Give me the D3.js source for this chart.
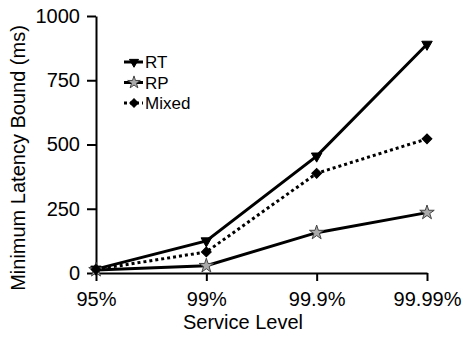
<!DOCTYPE html>
<html>
<head>
<meta charset="utf-8">
<script src="https://cdn.jsdelivr.net/npm/d3@7"></script>
<style>
  body { margin: 0; background: #fff; }
  text { font-family: "Liberation Sans", Arial, sans-serif; fill: #000; }
</style>
</head>
<body>
<div id="chart"></div>
<script>
// chart data
var levels = ["95%", "99%", "99.9%", "99.99%"];
var rtValues = [15, 125, 455, 890];
var rpValues = [12, 28, 157, 235];
var mixedValues = [14, 82, 388, 522];
var yTicks = [0, 250, 500, 750, 1000];

var svgWidth = 463;
var svgHeight = 345;
var margin = { top: 16, right: 36, bottom: 72, left: 96 };
var width = svgWidth - margin.left - margin.right;
var height = svgHeight - margin.top - margin.bottom;

var svg = d3.select("#chart")
  .append("svg")
  .attr("width", svgWidth)
  .attr("height", svgHeight);

var chartGroup = svg.append("g")
  .attr("transform", `translate(${margin.left}, ${margin.top})`);

var xScale = d3.scalePoint()
  .domain(levels)
  .range([0, width])
  .padding(0);

var yScale = d3.scaleLinear()
  .domain([0, 1000])
  .range([height, 0]);

// axes
var xAxis = chartGroup.append("g")
  .attr("transform", `translate(0, ${height})`)
  .call(d3.axisBottom(xScale).tickSize(8).tickPadding(11).tickSizeOuter(0));

var yAxis = chartGroup.append("g")
  .call(d3.axisLeft(yScale).tickValues(yTicks).tickFormat(d3.format("d"))
    .tickSize(9).tickPadding(7).tickSizeOuter(0));

[xAxis, yAxis].forEach(function (ax) {
  ax.select(".domain").attr("stroke", "#000").attr("stroke-width", 2);
  ax.selectAll(".tick line").attr("stroke", "#000").attr("stroke-width", 2);
  ax.selectAll(".tick text")
    .style("font-family", "'Liberation Sans', Arial, sans-serif")
    .style("font-size", "20px")
    .attr("fill", "#000");
});

// series
var series = [
  { name: "RT", values: rtValues, dash: null, symbol: d3.symbolTriangle, rotate: 180, size: 48, fill: "#000", stroke: "#000" },
  { name: "RP", values: rpValues, dash: null, symbol: d3.symbolStar, rotate: 0, size: 65, fill: "#aaa", stroke: "#444" },
  { name: "Mixed", values: mixedValues, dash: "3,3", symbol: d3.symbolSquare, rotate: 45, size: 48, fill: "#000", stroke: "#000" }
];

var line = d3.line()
  .x(function (d, i) { return xScale(levels[i]); })
  .y(function (d) { return yScale(d); });

series.forEach(function (s) {
  chartGroup.append("path")
    .datum(s.values)
    .attr("fill", "none")
    .attr("stroke", "#000")
    .attr("stroke-width", 3)
    .attr("stroke-dasharray", s.dash)
    .attr("d", line);

  chartGroup.selectAll(null)
    .data(s.values)
    .enter()
    .append("path")
    .attr("d", d3.symbol().type(s.symbol).size(s.size))
    .attr("transform", function (d, i) {
      return `translate(${xScale(levels[i])}, ${yScale(d)}) rotate(${s.rotate})`;
    })
    .attr("fill", s.fill)
    .attr("stroke", s.stroke)
    .attr("stroke-width", 1);
});

// legend
var legend = svg.append("g")
  .attr("transform", "translate(124, 62)");

series.forEach(function (s, i) {
  var row = legend.append("g")
    .attr("transform", `translate(0, ${i * 20.5})`);
  row.append("line")
    .attr("x1", 0).attr("x2", 19)
    .attr("y1", 0).attr("y2", 0)
    .attr("stroke", "#000")
    .attr("stroke-width", 3)
    .attr("stroke-dasharray", s.dash);
  row.append("path")
    .attr("d", d3.symbol().type(s.symbol).size(s.size * 0.75))
    .attr("transform", `translate(10, 0) rotate(${s.rotate})`)
    .attr("fill", s.fill)
    .attr("stroke", s.stroke)
    .attr("stroke-width", 1);
  row.append("text")
    .attr("x", 21)
    .attr("y", 6)
    .style("font-size", "17px")
    .text(s.name);
});

// axis labels
svg.append("text")
  .attr("x", 243)
  .attr("y", 329)
  .attr("text-anchor", "middle")
  .style("font-size", "20px")
  .text("Service Level");

svg.append("text")
  .attr("transform", "rotate(-90)")
  .attr("x", -158)
  .attr("y", 25)
  .attr("text-anchor", "middle")
  .style("font-size", "20px")
  .text("Minimum Latency Bound (ms)");
</script>
</body>
</html>
